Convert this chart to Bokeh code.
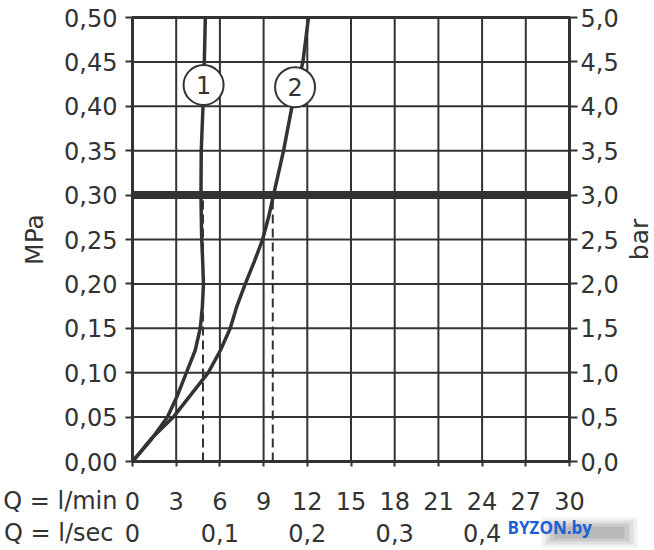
import math
from bokeh.plotting import figure
from bokeh.models import Range1d, LinearAxis, FixedTicker, Label, ColumnDataSource
from bokeh.core.properties import value
from bokeh.embed import file_html
from bokeh.resources import INLINE

# ---- data ----
pressure_1 = [0.0, 0.025, 0.05, 0.075, 0.10, 0.125, 0.15, 0.175, 0.20, 0.225, 0.25, 0.30, 0.35, 0.40, 0.45, 0.50]
flow_1 = [0.0, 1.3, 2.4, 3.1, 3.7, 4.3, 4.65, 4.8, 4.87, 4.82, 4.75, 4.7, 4.72, 4.84, 4.93, 5.0]
pressure_2 = [0.0, 0.025, 0.05, 0.075, 0.10, 0.125, 0.15, 0.175, 0.20, 0.225, 0.25, 0.275, 0.30, 0.35, 0.40, 0.45, 0.50]
flow_2 = [0.0, 1.25, 2.8, 4.0, 5.2, 6.03, 6.71, 7.17, 7.74, 8.36, 8.93, 9.34, 9.68, 10.37, 10.95, 11.7, 12.08]

dash_flow = [4.84, 9.63]          # flow at the rated pressure
rated_pressure = 0.30

curve_label_x = [4.88, 11.16]
curve_label_y = [0.424, 0.4215]
curve_label_text = ["1", "2"]

mpa_ticks = [0.0, 0.05, 0.10, 0.15, 0.20, 0.25, 0.30, 0.35, 0.40, 0.45, 0.50]
mpa_labels = ["0,00", "0,05", "0,10", "0,15", "0,20", "0,25", "0,30", "0,35", "0,40", "0,45", "0,50"]
bar_ticks = [0.0, 0.5, 1.0, 1.5, 2.0, 2.5, 3.0, 3.5, 4.0, 4.5, 5.0]
bar_labels = ["0,0", "0,5", "1,0", "1,5", "2,0", "2,5", "3,0", "3,5", "4,0", "4,5", "5,0"]
lmin_ticks = [0, 3, 6, 9, 12, 15, 18, 21, 24, 27, 30]
lmin_labels = ["0", "3", "6", "9", "12", "15", "18", "21", "24", "27", "30"]
lsec_ticks = [0, 6, 12, 18, 24]
lsec_labels = ["0", "0,1", "0,2", "0,3", "0,4"]
row_titles = ["Q = l/min", "Q = l/sec"]
MPA_TO_BAR = 10.0

INK = "#333333"
FONT = "DejaVu Sans"
FS = "24px"

# ---- layout: the frame covers the whole canvas; the chart box sits inside it ----
W, H = 654, 550
BOX_L, BOX_R, BOX_T, BOX_B = 132, 569, 17, 461       # pixel position of the chart box
x0, x1 = lmin_ticks[0], lmin_ticks[-1]
y0, y1 = mpa_ticks[0], mpa_ticks[-1]
xs = (BOX_R - BOX_L) / (x1 - x0)
ys = (BOX_B - BOX_T) / (y1 - y0)
xr = Range1d(x0 - BOX_L / xs, x1 + (W - BOX_R) / xs)
yr = Range1d(y0 - (H - BOX_B) / ys, y1 + BOX_T / ys)

p = figure(width=W, height=H, x_range=xr, y_range=yr,
           x_axis_location=None, y_axis_location=None,
           output_backend="svg", toolbar_location=None,
           min_border=0, min_border_left=0, min_border_right=0,
           min_border_top=0, min_border_bottom=0)
p.extra_y_ranges = {"bar": Range1d(yr.start * MPA_TO_BAR, yr.end * MPA_TO_BAR)}
p.background_fill_color = "white"
p.border_fill_color = "white"
p.outline_line_color = None
p.xgrid.visible = False
p.ygrid.visible = False

def px_to_x(px):
    return x0 + (px - BOX_L) / xs

def px_to_y(py):
    return y0 + (BOX_B - py) / ys

# ---- grid ----
p.segment(x0=lmin_ticks, y0=[y0] * len(lmin_ticks), x1=lmin_ticks, y1=[y1] * len(lmin_ticks),
          line_color=INK, line_width=2)
p.segment(x0=[x0] * len(mpa_ticks), y0=mpa_ticks, x1=[x1] * len(mpa_ticks), y1=mpa_ticks,
          line_color=INK, line_width=2)
p.quad(left=[x0], right=[x1], bottom=[y0], top=[y1], fill_color=None,
       line_color=INK, line_width=3)

def style_axis(ax):
    ax.axis_line_color = INK
    ax.axis_line_width = 3
    ax.major_tick_line_color = INK
    ax.major_tick_line_width = 2
    ax.minor_tick_line_color = None
    ax.major_tick_in = 0
    ax.major_label_text_font = FONT
    ax.major_label_text_font_size = FS
    ax.major_label_text_color = INK
    ax.axis_label_text_font = FONT
    ax.axis_label_text_font_size = "25px"
    ax.axis_label_text_font_style = "normal"
    ax.axis_label_text_color = INK

# left axis (MPa)
ly = LinearAxis(fixed_location=x0, bounds=(y0, y1))
style_axis(ly)
ly.ticker = FixedTicker(ticks=mpa_ticks)
ly.major_label_overrides = dict(zip(mpa_ticks, mpa_labels))
ly.major_tick_out = 7
ly.major_label_standoff = 8
ly.axis_label = "MPa"
ly.axis_label_standoff = 12
p.add_layout(ly, "left")

# right axis (bar)
ry = LinearAxis(y_range_name="bar", fixed_location=x1, bounds=(y0 * MPA_TO_BAR, y1 * MPA_TO_BAR))
style_axis(ry)
ry.ticker = FixedTicker(ticks=bar_ticks)
ry.major_label_overrides = dict(zip(bar_ticks, bar_labels))
ry.major_tick_out = 8
ry.major_label_standoff = 3
p.add_layout(ry, "right")

# bottom axis (l/min)
bx = LinearAxis(fixed_location=y0, bounds=(x0, x1))
style_axis(bx)
bx.ticker = FixedTicker(ticks=lmin_ticks)
bx.major_label_overrides = dict(zip(lmin_ticks, lmin_labels))
bx.major_tick_out = 5
bx.major_label_standoff = 25
p.add_layout(bx, "below")

# second bottom row (l/sec)
bx2 = LinearAxis(fixed_location=px_to_y(500), bounds=(x0, x1))
style_axis(bx2)
bx2.ticker = FixedTicker(ticks=lsec_ticks)
bx2.major_label_overrides = dict(zip(lsec_ticks, lsec_labels))
bx2.axis_line_color = None
bx2.major_tick_line_color = None
bx2.major_tick_out = 0
bx2.major_label_standoff = 23
p.add_layout(bx2, "below")

# rated pressure line
p.line([x0, x1], [rated_pressure, rated_pressure], line_color=INK, line_width=8)

# dashed drop lines
for f in dash_flow:
    p.line([f, f], [y0, rated_pressure], line_color=INK, line_width=2, line_dash="9 5")

# curves
p.line(flow_1, pressure_1, line_color=INK, line_width=3.5, line_join="round")
p.line(flow_2, pressure_2, line_color=INK, line_width=3.5, line_join="round")

# curve labels
src = ColumnDataSource(dict(x=curve_label_x, y=curve_label_y, t=curve_label_text))
p.scatter("x", "y", source=src, marker="circle", size=40, fill_color="white",
          line_color=INK, line_width=2)
p.text("x", "y", text="t", source=src, text_align="center", text_baseline="middle",
       text_font=value(FONT), text_font_size="24px", text_color=INK)

# row titles
p.add_layout(Label(x=px_to_x(117), y=px_to_y(500), text=row_titles[0],
                   text_align="right", text_baseline="middle", text_font=FONT,
                   text_font_size=FS, text_color=INK))
p.add_layout(Label(x=px_to_x(113), y=px_to_y(532), text=row_titles[1],
                   text_align="right", text_baseline="middle", text_font=FONT,
                   text_font_size=FS, text_color=INK))

# right axis title
p.add_layout(Label(x=px_to_x(639), y=px_to_y(239), text="bar", angle=math.pi / 2,
                   text_align="center", text_baseline="middle",
                   text_font=FONT, text_font_size="25px", text_color=INK))

# watermark with a blurred grey shadow
for (w, h, a) in [(96, 30, 0.10), (88, 24, 0.14), (80, 18, 0.18), (70, 12, 0.22)]:
    p.rect(x=[px_to_x(589)], y=[px_to_y(532)], width=w, height=h,
           width_units="screen", height_units="screen",
           fill_color="#777777", fill_alpha=a, line_color=None)
p.add_layout(Label(x=px_to_x(507), y=px_to_y(527), text="BYZON.by",
                   text_baseline="middle", text_font="Open Sans", text_font_style="bold",
                   text_font_size="17px", text_color="#1f5fd6"))

open("out.html", "w").write(file_html(p, INLINE))
